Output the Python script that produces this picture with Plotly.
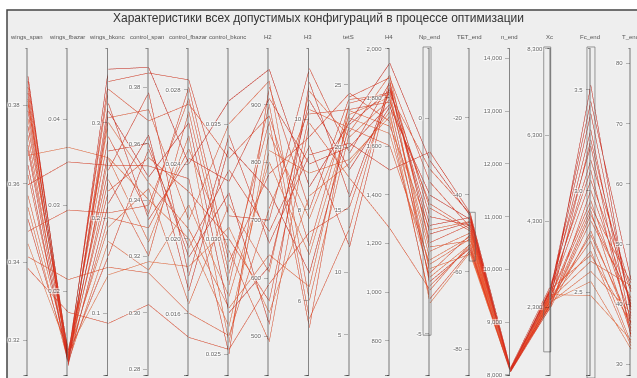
import plotly.graph_objects as go

# ---- configuration data: one entry per feasible design found by the optimizer ----
wings_span = [0.3873, 0.3860, 0.3845, 0.3830, 0.3815, 0.3800, 0.3785, 0.3765, 0.3745, 0.3722,
              0.3697, 0.3671, 0.3646, 0.3621, 0.3596, 0.3568, 0.3538, 0.3508, 0.3477, 0.3445,
              0.3412, 0.3382, 0.3684, 0.3810]
wings_fbazar = [0.0118, 0.0122, 0.0125, 0.0113, 0.0120, 0.0128, 0.0116, 0.0123, 0.0131, 0.0119,
                0.0126, 0.0367, 0.0114, 0.0121, 0.0350, 0.0127, 0.0117, 0.0124, 0.0294, 0.0130,
                0.0213, 0.0175, 0.0115, 0.0122]
wings_bkonc = [0.356, 0.343, 0.335, 0.312, 0.305, 0.285, 0.270, 0.262, 0.250, 0.240,
               0.228, 0.263, 0.215, 0.200, 0.255, 0.190, 0.175, 0.160, 0.205, 0.140,
               0.148, 0.089, 0.320, 0.300]
control_span = [0.3870, 0.3850, 0.3680, 0.3480, 0.3720, 0.3350, 0.3600, 0.3250, 0.3780, 0.3200,
                0.3550, 0.3400, 0.3630, 0.3300, 0.3520, 0.3440, 0.3150, 0.3580, 0.3380, 0.3180,
                0.3140, 0.3028, 0.3330, 0.3460]
control_fbazar = [0.0240, 0.0285, 0.0272, 0.0262, 0.0210, 0.0281, 0.0190, 0.0255, 0.0180, 0.0268,
                  0.0225, 0.0200, 0.0172, 0.0248, 0.0232, 0.0165, 0.0218, 0.0195, 0.0275, 0.0185,
                  0.0160, 0.0147, 0.0243, 0.0205]
control_bkonc = [0.0360, 0.0310, 0.0335, 0.0268, 0.0350, 0.0290, 0.0320, 0.0255, 0.0345, 0.0280,
                 0.0300, 0.0262, 0.0340, 0.0295, 0.0250, 0.0315, 0.0275, 0.0330, 0.0285, 0.0305,
                 0.0258, 0.0252, 0.0325, 0.0270]
H2 = [960, 700, 880, 620, 940, 780, 520, 850, 660, 900, 560, 820,
      750, 490, 930, 610, 800, 680, 870, 540, 720, 590, 910, 640]
H3 = [8.5, 11.1, 7.2, 10.4, 6.0, 9.6, 10.8, 7.8, 9.2, 5.6, 10.1, 8.8,
      6.6, 9.9, 8.0, 10.6, 7.0, 9.4, 5.4, 8.3, 10.2, 7.5, 9.0, 6.3]
tetS = [22.0, 19.5, 23.5, 18.2, 21.2, 24.3, 16.0, 22.6, 20.3, 13.5, 23.0, 19.0,
        21.8, 17.5, 24.0, 20.8, 22.3, 12.0, 23.8, 18.7, 21.5, 15.2, 20.0, 22.9]
H4 = [1940, 1860, 1820, 1760, 1890, 1700, 1840, 1800, 1500, 1870, 1780, 1720,
      1830, 1260, 1880, 1790, 1650, 1850, 1810, 1740, 1600, 1830, 1770, 1680]
Np_end = [-1.0, -2.3, -3.6, -1.8, -3.0, -4.2, -2.7, -3.3, -0.8, -3.9, -2.0, -3.5,
          -2.5, -4.0, -1.5, -3.1, -3.7, -2.9, -1.2, -4.3, -3.4, -2.1, -3.8, -2.6]
TET_end = [-45.5, -48.0, -50.5, -46.5, -52.0, -54.5, -47.2, -51.0, -44.8, -53.5, -49.0, -55.5,
           -46.0, -52.8, -48.5, -50.0, -53.0, -47.8, -45.0, -55.0, -51.5, -49.5, -54.0, -47.0]
n_end = [8060, 8080, 8050, 8100, 8070, 8045, 8090, 8065, 8120, 8055, 8085, 8048,
         8075, 8110, 8058, 8095, 8052, 8068, 8130, 8062, 8078, 8105, 8057, 8088]
Xc = [2450, 2600, 2380, 2700, 2520, 2300, 2650, 2480, 2790, 2350, 2560, 2420,
      2680, 2280, 2620, 2500, 2400, 2740, 2330, 2580, 2460, 2540, 2360, 2710]
Fc_end = [3.52, 3.15, 2.90, 3.44, 2.75, 3.00, 3.30, 2.65, 3.22, 2.85, 2.95, 2.55,
          3.38, 2.80, 3.05, 2.70, 2.60, 3.10, 2.88, 2.48, 2.78, 2.92, 3.25, 2.68]
T_end = [38.0, 42.5, 35.0, 44.0, 33.5, 40.0, 36.5, 43.0, 34.5, 41.0, 37.5, 32.5,
         39.0, 36.0, 42.0, 33.0, 38.5, 35.5, 40.5, 34.0, 37.0, 43.5, 39.5, 36.8]

# axis name, values, [min, max] range, tick values, tick labels
axes = [
    ("wings_span", wings_span, [0.3109, 0.3944], [0.32, 0.34, 0.36, 0.38], ["0.32", "0.34", "0.36", "0.38"]),
    ("wings_fbazar", wings_fbazar, [0.01015, 0.0482], [0.02, 0.03, 0.04], ["0.02", "0.03", "0.04"]),
    ("wings_bkonc", wings_bkonc, [0.0343, 0.3777], [0.1, 0.2, 0.3], ["0.1", "0.2", "0.3"]),
    ("control_span", control_span, [0.2776, 0.3937], [0.28, 0.30, 0.32, 0.34, 0.36, 0.38],
     ["0.28", "0.30", "0.32", "0.34", "0.36", "0.38"]),
    ("control_fbazar", control_fbazar, [0.01266, 0.03018], [0.016, 0.020, 0.024, 0.028],
     ["0.016", "0.020", "0.024", "0.028"]),
    ("control_bkonc", control_bkonc, [0.02407, 0.03827], [0.025, 0.030, 0.035], ["0.025", "0.030", "0.035"]),
    ("H2", H2, [431.9, 995.9], [500, 600, 700, 800, 900], ["500", "600", "700", "800", "900"]),
    ("H3", H3, [4.35, 11.54], [6, 8, 10], ["6", "8", "10"]),
    ("tetS", tetS, [1.72, 27.87], [5, 10, 15, 20, 25], ["5", "10", "15", "20", "25"]),
    ("H4", H4, [655, 2000], [800, 1000, 1200, 1400, 1600, 1800, 2000],
     ["800", "1,000", "1,200", "1,400", "1,600", "1,800", "2,000"]),
    ("Np_end", Np_end, [-5.98, 1.6], [-5, 0], ["-5", "0"]),
    ("TET_end", TET_end, [-87, -2.1], [-80, -60, -40, -20], ["-80", "-60", "-40", "-20"]),
    ("n_end", n_end, [7980, 14181], [8000, 9000, 10000, 11000, 12000, 13000, 14000],
     ["8,000", "9,000", "10,000", "11,000", "12,000", "13,000", "14,000"]),
    ("Xc", Xc, [700, 8300], [2300, 4300, 6300, 8300], ["2,300", "4,300", "6,300", "8,300"]),
    ("Fc_end", Fc_end, [2.085, 3.702], [2.5, 3.0, 3.5], ["2.5", "3.0", "3.5"]),
    ("T_end", T_end, [28.1, 82.4], [30, 40, 50, 60, 70, 80], ["30", "40", "50", "60", "70", "80"]),
]

W, H = 637, 378
ML, MT = 7, 10
PW, PH = W - ML, H - MT            # plotting area in pixels
DOM_X = [0.0313, 0.9892]
DOM_Y = [0.0, 0.8995]
FONT = "Liberation Sans, Arial, sans-serif"
COLORSCALE = [[0, "#f0703f"], [0.5, "#e6452a"], [1, "#d1281c"]]


def full_ticks(rng, tv, tt):
    # add unlabeled ticks at both range ends so each axis line spans its full height
    vals, texts = list(tv), list(tt)
    for end in rng:
        if all(abs(end - v) > 1e-9 * max(1.0, abs(end)) for v in vals):
            vals.append(end)
            texts.append("")
    return vals, texts


def make_dims(with_text):
    out = []
    for name, vals, rng, tv, tt in axes:
        v2, t2 = full_ticks(rng, tv, tt)
        out.append(dict(label="", values=vals, range=rng, tickvals=v2,
                        ticktext=t2 if with_text else [""] * len(t2)))
    return out


def parcoords(dx, dy, with_text):
    # dx, dy: pixel offset of the whole trace (used for a second, stroke-thickening pass)
    return go.Parcoords(
        domain=dict(x=[DOM_X[0] + dx / PW, DOM_X[1] + dx / PW],
                    y=[DOM_Y[0] + dy / PH, DOM_Y[1] + dy / PH]),
        dimensions=make_dims(with_text),
        line=dict(color=Fc_end, colorscale=COLORSCALE, showscale=False),
        labelfont=dict(family=FONT, size=1, color="#555"),
        tickfont=dict(family=FONT, size=6, color="#666"),
        rangefont=dict(family=FONT, size=1, color="rgba(0,0,0,0)"),
    )


fig = go.Figure([parcoords(0.8, 0.8, False), parcoords(0, 0, True)])

n_ax = len(axes)
names = [a[0] for a in axes]


def axis_x(i):
    return DOM_X[0] + i * (DOM_X[1] - DOM_X[0]) / (n_ax - 1)


# axis titles
annotations = [dict(text=name, x=axis_x(i), y=(H - 37) / PH, xref="paper", yref="paper",
                    xanchor="center", yanchor="middle", showarrow=False,
                    font=dict(family=FONT, size=6, color="#555"))
               for i, name in enumerate(names)]

# filter brushes: axis, value span, left/right pixel offsets from the axis line
brushes = [("Np_end", -5.0, 1.6, -6, 2), ("TET_end", -57.0, -44.5, 0, 6),
           ("Xc", 1300, 8300, -6, 1), ("Fc_end", 2.085, 3.702, -3, 5)]
shapes = [
    dict(type="rect", xref="paper", yref="paper", x0=0, x1=1.02, y0=-0.02, y1=1,
         fillcolor="#eeeeee", line=dict(color="#444", width=1.5), layer="below"),
]
for name, lo, hi, left, right in brushes:
    i = names.index(name)
    rng = axes[i][2]
    xc = axis_x(i)

    def yp(v):
        return DOM_Y[0] + (v - rng[0]) / (rng[1] - rng[0]) * (DOM_Y[1] - DOM_Y[0])
    shapes.append(dict(type="rect", xref="paper", yref="paper",
                       x0=xc + left / PW, x1=xc + right / PW, y0=yp(lo), y1=yp(hi),
                       fillcolor="rgba(0,0,0,0)", line=dict(color="rgba(90,90,90,0.6)", width=1),
                       layer="above"))

fig.update_layout(
    width=W, height=H,
    margin=dict(l=ML, r=0, t=MT, b=0),
    paper_bgcolor="white",
    title=dict(text="Характеристики всех допустимых конфигураций в процессе оптимизации",
               x=0.5, xref="container", y=1 - 18 / H, yref="container", yanchor="middle",
               font=dict(family=FONT, size=12, color="#333")),
    shapes=shapes,
    annotations=annotations,
)

fig.write_html("out.html")
